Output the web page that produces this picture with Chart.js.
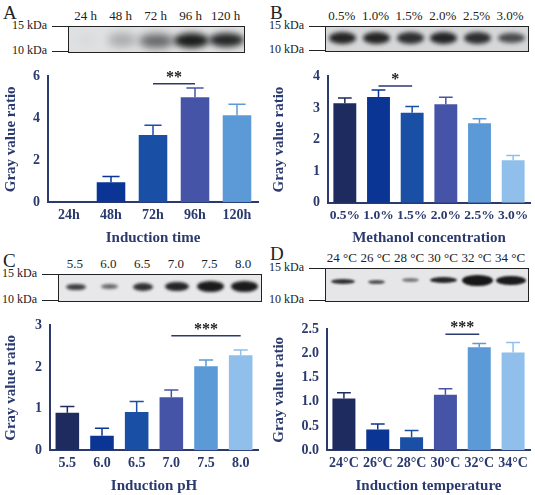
<!DOCTYPE html>
<html><head><meta charset="utf-8">
<script src="https://cdn.jsdelivr.net/npm/chart.js@4"></script>
<style>
body{margin:0;background:#fff;font-family:"Liberation Serif",serif;}
#wrap{position:relative;width:535px;height:495px;overflow:hidden;}
.abs{position:absolute;}
.letter{font-size:19px;color:#222;}
.kda{font-size:12px;color:#222;white-space:nowrap;}
.blot{border:1.5px solid #222;overflow:hidden;}
.lane{position:absolute;font-size:13px;color:#222;text-align:center;white-space:nowrap;}
.band{position:absolute;border-radius:50%;background:#111;}
.tick{position:absolute;height:1px;background:#222;}
</style></head><body><div id="wrap"></div>
<script>
const colors=['#1e2b5e','#0a3595','#1a4fa6','#4654a8','#5b9ad6','#8fbfea'];
const catA=['24h','48h','72h','96h','120h'];
const valA=[0,0.95,3.2,5.0,4.15];
const errA=[0,0.28,0.47,0.45,0.52];
const laneA=['24 h','48 h','72 h','96 h','120 h'];
const catB=['0.5%','1.0%','1.5%','2.0%','2.5%','3.0%'];
const valB=[3.15,3.35,2.85,3.12,2.52,1.35];
const errB=[0.17,0.22,0.2,0.22,0.14,0.15];
const catC=['5.5','6.0','6.5','7.0','7.5','8.0'];
const valC=[0.9,0.35,0.92,1.27,2.02,2.28];
const errC=[0.15,0.18,0.25,0.18,0.15,0.13];
const catD=['24°C','26°C','28°C','30°C','32°C','34°C'];
const valD=[1.07,0.43,0.27,1.15,2.13,2.02];
const errD=[0.12,0.11,0.14,0.12,0.08,0.21];
const laneD=['24 °C','26 °C','28 °C','30 °C','32 °C','34 °C'];

const W=document.getElementById('wrap');
function el(cls,x,y,html,style){const d=document.createElement('div');d.className='abs '+cls;d.style.left=x+'px';d.style.top=y+'px';if(html!=null)d.innerHTML=html;if(style)Object.assign(d.style,style);W.appendChild(d);return d;}

function blot(x,y,w,h,lanes,bands,bg){
  const b=el('blot',x,y,null,{width:w+'px',height:h+'px',background:bg});
  const n=lanes.length, lw=w/n;
  lanes.forEach((t,i)=>{el('lane',x+i*lw,y-18,t,{width:lw+'px'});});
  bands.forEach((bd,i)=>{
    const d=document.createElement('div');d.className='band';
    Object.assign(d.style,{left:(i*lw+lw*(1-bd.w)/2)+'px',top:(h*bd.y-bd.h/2)+'px',width:(lw*bd.w)+'px',height:bd.h+'px',opacity:bd.o,filter:'blur('+bd.b+'px)'});
    b.appendChild(d);
  });
  el('kda',x-56,y-8,'15 kDa');el('kda',x-56,y+h-8,'10 kDa');
  el('tick',x-16,y,null,{width:'16px'});el('tick',x-16,y+h,null,{width:'16px'});
}
el('letter',3,2,'A');el('letter',270,2,'B');el('letter',3,250,'C');el('letter',270,243,'D');
blot(68,26,175,25,laneA,[{y:.5,w:.6,h:14,o:0.02,b:4},{y:.5,w:.8,h:14,o:.25,b:4},{y:.55,w:1,h:14,o:.6,b:4},{y:.55,w:1,h:15,o:.95,b:3},{y:.5,w:1,h:14,o:.9,b:3}],'#dfe0e2');
blot(325,26,202,24,catB,[{y:.45,w:.8,h:12,o:.9,b:2},{y:.45,w:.8,h:12,o:.9,b:2},{y:.45,w:.8,h:12,o:.85,b:2},{y:.45,w:.8,h:12,o:.9,b:2},{y:.45,w:.8,h:12,o:.85,b:2},{y:.45,w:.8,h:10,o:.7,b:2}],'#d6d7d9');
blot(58,274,202,26,catC,[{y:.45,w:.6,h:6,o:.8,b:1.5},{y:.45,w:.5,h:5,o:.6,b:1.5},{y:.45,w:.6,h:8,o:.85,b:1.5},{y:.45,w:.7,h:9,o:.9,b:1.5},{y:.45,w:.8,h:11,o:.95,b:1.5},{y:.45,w:.8,h:11,o:.95,b:1.5}],'#e8e8ea');
blot(325,268,202,32,laneD,[{y:.4,w:.7,h:5,o:.85,b:1},{y:.4,w:.5,h:4,o:.7,b:1},{y:.35,w:.5,h:4,o:.5,b:1},{y:.33,w:.8,h:6,o:.9,b:1},{y:.35,w:.9,h:11,o:.97,b:1.2},{y:.35,w:.9,h:9,o:.95,b:1}],'#e6e6e8');

const TXT='#2a3a6e';
const F='"Liberation Serif", serif';
const errPlugin={id:'err',afterDatasetsDraw(c,a,o){
  const p=c.options.plugins.err;const ctx=c.ctx;const ys=c.scales.y;
  const meta=c.getDatasetMeta(0);
  ctx.save();ctx.lineWidth=1.5;
  p.vals.forEach((v,i)=>{ if(!p.errs[i])return; const bx=meta.data[i].x,bw=meta.data[i].width;
    ctx.strokeStyle=colors[p.ci[i]];
    const y0=ys.getPixelForValue(v),y1=ys.getPixelForValue(v+p.errs[i]);
    ctx.beginPath();ctx.moveTo(bx,y0);ctx.lineTo(bx,y1);ctx.moveTo(bx-bw*0.3,y1);ctx.lineTo(bx+bw*0.3,y1);ctx.stroke();});
  const s=p.sig; const xa=meta.data[s.a].x, xb=meta.data[s.b].x, yy=ys.getPixelForValue(s.y);
  ctx.strokeStyle=TXT;ctx.lineWidth=1.5;ctx.beginPath();ctx.moveTo(xa,yy);ctx.lineTo(xb,yy);ctx.stroke();
  ctx.fillStyle='#222';ctx.font='bold 16px '+F;ctx.textAlign='center';ctx.textBaseline='bottom';ctx.fillText(s.t,(xa+xb)/2,yy+2);
  ctx.restore();}};

function chart(x,y,w,h,cats,vals,errs,ci,max,step,title,sig,axW,dec,fs){
  const cv=document.createElement('canvas');const d=el('',x,y,null,{width:w+'px',height:h+'px'});d.appendChild(cv);
  new Chart(cv,{type:'bar',data:{labels:cats,datasets:[{data:vals,backgroundColor:ci.map(i=>colors[i]),barPercentage:0.68,categoryPercentage:1}]},
  options:{responsive:true,maintainAspectRatio:false,animation:false,layout:{padding:{top:10,right:4}},
   plugins:{legend:{display:false},tooltip:{enabled:false},err:{vals,errs,ci,sig}},
   scales:{x:{grid:{display:false,drawTicks:false},border:{color:TXT,width:2},ticks:{color:TXT,maxRotation:0,minRotation:0,autoSkip:false,font:{family:F,size:fs,weight:'bold'},padding:5},
      title:{display:true,text:title,color:TXT,font:{family:F,size:15,weight:'bold'},padding:0}},
    y:{min:0,max:max,grid:{display:false,drawTicks:true,tickLength:5,tickColor:TXT,tickWidth:2},border:{color:TXT,width:2},
      ticks:{stepSize:step,color:TXT,font:{family:F,size:14,weight:'bold'},callback:v=>v.toFixed(dec)},
      title:{display:true,text:'Gray value ratio',color:TXT,font:{family:F,size:15,weight:'bold'},padding:2},
      afterFit(s){s.width=axW;}}}},plugins:[errPlugin]});
}
chart(0,65,262,182,catA,valA,errA,[0,1,2,3,4],6,2,'Induction time',{a:2,b:3,y:5.65,t:'**'},48,0,14);
chart(268,65,266,182,catB,valB,errB,[0,1,2,3,4,5],4,1,'Methanol concentration',{a:1,b:2,y:3.7,t:'*'},60,0,13.5);
chart(0,314,262,181,catC,valC,errC,[0,1,2,3,4,5],3,1,'Induction pH',{a:3,b:5,y:2.75,t:'***'},50,0,14);
chart(268,318,266,177,catD,valD,errD,[0,1,2,3,4,5],2.5,0.5,'Induction temperature',{a:3,b:4,y:2.4,t:'***'},59,1,14);
</script></body></html>
